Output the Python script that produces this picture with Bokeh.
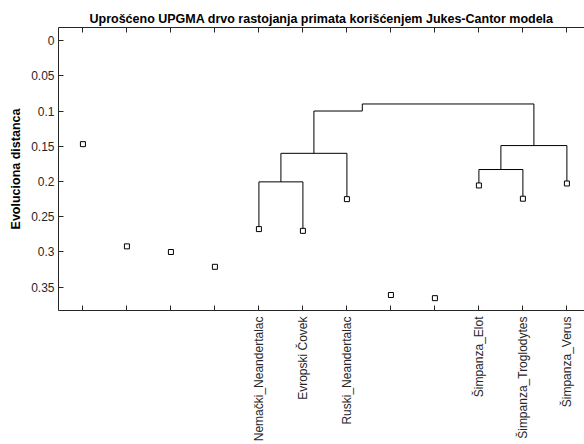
import math
from bokeh.plotting import figure
from bokeh.models import Range1d, FixedTicker, LinearAxis, CustomJSTickFormatter, ColumnDataSource
from bokeh.embed import file_html
from bokeh.resources import INLINE

# ---- data ----
leaf_positions = [1, 2, 3, 4, 5, 6, 7, 8, 9, 10, 11, 12]
leaf_labels = ["", "", "", "", "Nemački_Neandertalac", "Evropski Čovek", "Ruski_Neandertalac",
               "", "", "Šimpanza_Elot", "Šimpanza_Troglodytes", "Šimpanza_Verus"]
leaf_distance = [0.147, 0.292, 0.300, 0.321, 0.2675, 0.270, 0.225, 0.361, 0.3655, 0.2056, 0.2244, 0.2028]

link_x = [[5, 5, 6, 6],
          [5.5, 5.5, 7, 7],
          [10, 10, 11, 11],
          [10.5, 10.5, 12, 12],
          [6.25, 6.25, 7.35, 7.35],
          [7.35, 7.35, 11.25, 11.25]]
link_y = [[0.2675, 0.2005, 0.2005, 0.270],
          [0.2005, 0.160, 0.160, 0.225],
          [0.2056, 0.183, 0.183, 0.2244],
          [0.183, 0.149, 0.149, 0.2028],
          [0.160, 0.100, 0.100, 0.090],
          [0.090, 0.090, 0.090, 0.149]]

y_ticks = [0, 0.05, 0.1, 0.15, 0.2, 0.25, 0.3, 0.35]

TXT = "#262626"

p = figure(width=584, height=444, output_backend="svg", toolbar_location=None,
           x_range=Range1d(0.445, 12.4), y_range=Range1d(0.383, -0.0185),
           min_border_left=58, min_border_right=0, min_border_top=27, min_border_bottom=0,
           title="Uprošćeno UPGMA drvo rastojanja primata korišćenjem Jukes-Cantor modela")
p.outline_line_color = None
p.grid.visible = False
p.background_fill_color = "white"
p.border_fill_color = "white"

p.title.align = "center"
p.title.text_font = "Liberation Sans"
p.title.text_font_size = "12.5px"
p.title.text_font_style = "bold"
p.title.text_color = "black"
p.title.standoff = 4

# links
p.multi_line(xs=link_x, ys=link_y, line_color="black", line_width=1)
# leaves
src = ColumnDataSource(dict(x=leaf_positions, y=leaf_distance))
p.scatter("x", "y", source=src, marker="square", size=5, fill_color="white",
          line_color="black", line_width=1)

# x axis
xa = p.xaxis[0]
xa.ticker = FixedTicker(ticks=leaf_positions)
xa.major_label_overrides = {pos: lab for pos, lab in zip(leaf_positions, leaf_labels)}
xa.major_label_orientation = math.pi / 2
xa.major_label_text_font = "Liberation Sans"
xa.major_label_text_font_size = "12px"
xa.major_label_text_color = TXT
xa.major_label_standoff = 6
xa.major_tick_in = 5
xa.major_tick_out = 0
xa.minor_tick_line_color = None
xa.axis_line_color = TXT
xa.major_tick_line_color = TXT

# y axis
ya = p.yaxis[0]
ya.ticker = FixedTicker(ticks=y_ticks)
ya.formatter = CustomJSTickFormatter(code="return String(Math.round(tick*100)/100);")
ya.major_label_text_font = "Liberation Sans"
ya.major_label_text_font_size = "12px"
ya.major_label_text_color = TXT
ya.major_label_standoff = 4
ya.major_tick_in = 5
ya.major_tick_out = 0
ya.minor_tick_line_color = None
ya.axis_line_color = TXT
ya.major_tick_line_color = TXT
ya.axis_label = "Evoluciona distanca"
ya.axis_label_text_font = "Liberation Sans"
ya.axis_label_text_font_size = "12.5px"
ya.axis_label_text_font_style = "bold"
ya.axis_label_text_color = "black"
ya.axis_label_standoff = 5

# top axis (ticks only)
top = LinearAxis(ticker=FixedTicker(ticks=leaf_positions),
                 formatter=CustomJSTickFormatter(code="return '';"))
top.major_label_standoff = 0
top.major_tick_in = 5
top.major_tick_out = 0
top.minor_tick_line_color = None
top.axis_line_color = TXT
top.major_tick_line_color = TXT
p.add_layout(top, "above")

open("out.html", "w").write(file_html(p, INLINE))
